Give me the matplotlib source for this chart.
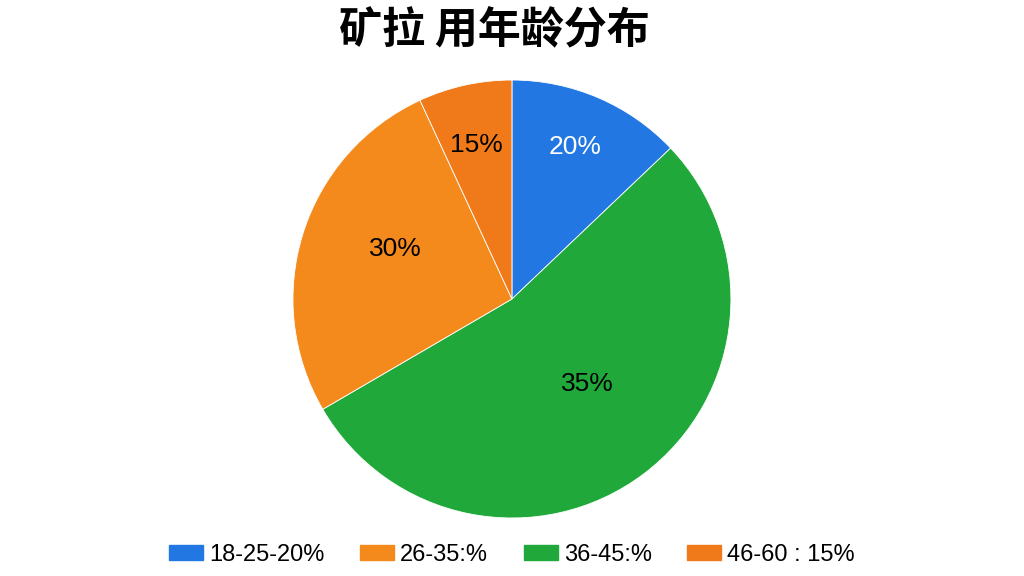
import matplotlib
matplotlib.use('Agg')
import matplotlib.pyplot as plt
import numpy as np

groups = ['18-25', '36-45', '26-35', '46-60']
shares = [12.9, 53.7, 26.5, 6.9]
slice_labels = ['20%', '35%', '30%', '15%']
label_radius = [0.75, 0.52, 0.58, 0.72]
label_shift = [0.7, 4.8, -5.9, 0.5]  # degrees off the wedge middle
label_colors = ['white', 'black', 'black', 'black']
colors = ['#2277e2', '#20a83b', '#f58a1c', '#f07a1a']

legend_names = ['18-25-20%', '26-35:%', '36-45:%', '46-60 : 15%']
legend_colors = ['#2277e2', '#f58a1c', '#20a83b', '#f07a1a']

title = '矿拉 用年龄分布'


def main():
    fig = plt.figure(figsize=(10.24, 5.76), dpi=100)
    ax = fig.add_axes([0.2861, 0.1007, 0.4277, 0.7604])

    wedges, _ = ax.pie(shares, colors=colors, startangle=90,
            counterclock=False,
            wedgeprops={'edgecolor': 'white', 'linewidth': 0.6})
    ax.set_xlim(-1, 1)
    ax.set_ylim(-1, 1)
    ax.set_aspect('equal')

    for w, txt, r, s, c in zip(wedges, slice_labels, label_radius,
            label_shift, label_colors):
        mid = np.deg2rad((w.theta1 + w.theta2) / 2 + s)
        ax.text(r * np.cos(mid), r * np.sin(mid), txt, ha='center',
                va='center', fontsize=19, color=c,
                family='Liberation Sans')

    fig.text(0.483, 0.948, title, ha='center', va='center', fontsize=31,
            fontweight='bold', family=['Noto Sans CJK SC', 'DejaVu Sans'])

    handles = [plt.Rectangle((0, 0), 1, 1, color=c) for c in legend_colors]
    fig.legend(handles, legend_names, loc='center', ncol=4,
            bbox_to_anchor=(0.5, 0.037), frameon=False,
            prop={'family': 'Liberation Sans', 'size': 17},
            handlelength=1.45, handleheight=0.65, handletextpad=0.25,
            columnspacing=1.5)

    fig.savefig('out.png', dpi=100, facecolor='white')


main()
